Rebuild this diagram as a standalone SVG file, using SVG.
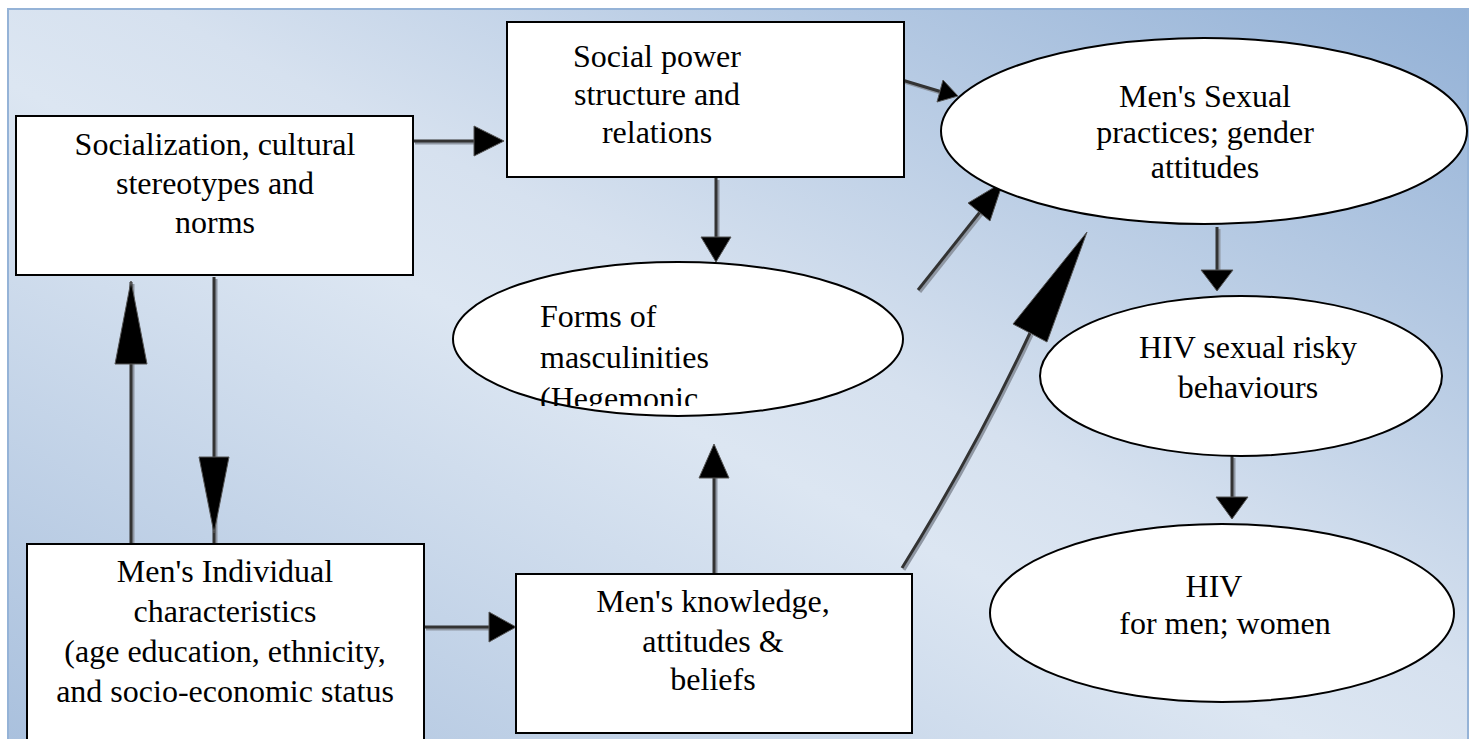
<svg xmlns="http://www.w3.org/2000/svg" width="1474" height="739" viewBox="0 0 1474 739">
<defs>
<linearGradient id="bg" x1="1" y1="0" x2="0" y2="1">
<stop offset="0" stop-color="#93b1d6"/>
<stop offset="0.45" stop-color="#d6e1ef"/>
<stop offset="0.55" stop-color="#dce6f2"/>
<stop offset="1" stop-color="#a9c0dd"/>
</linearGradient>
<clipPath id="formsClip"><rect x="453" y="262" width="450" height="144"/></clipPath>
</defs>
<style>
.node{fill:#fff;stroke:#000;stroke-width:2}
.t{font-family:"Liberation Serif","Times New Roman",serif;font-size:32px;fill:#000}
.c{text-anchor:middle}
.sh{stroke:#8f97a3;stroke-width:3;fill:none}
.ln{stroke:#333;stroke-width:3;fill:none}
.hd{fill:#000;stroke:#555;stroke-width:1}
</style>
<rect x="0" y="0" width="1474" height="739" fill="#fff"/>
<rect x="8" y="9" width="1460" height="740" fill="url(#bg)" stroke="#95b3d7" stroke-width="2"/>

<g id="connectors">
<!-- shadows -->
<g transform="translate(2,2)">
<line class="sh" x1="413" y1="141" x2="480" y2="141"/>
<line class="sh" x1="716" y1="178" x2="716" y2="240"/>
<line class="sh" x1="902" y1="80" x2="942" y2="92"/>
<line class="sh" x1="918" y1="290" x2="980" y2="212"/>
<path class="sh" d="M902,568 Q973,454 1030,333"/>
<line class="sh" x1="1217" y1="227" x2="1217" y2="272"/>
<line class="sh" x1="1232" y1="456" x2="1232" y2="499"/>
<line class="sh" x1="214" y1="277" x2="214" y2="544"/>
<line class="sh" x1="131" y1="282" x2="131" y2="544"/>
<line class="sh" x1="424" y1="627" x2="492" y2="627"/>
<line class="sh" x1="714" y1="476" x2="714" y2="573"/>
</g>
<!-- lines -->
<line class="ln" x1="413" y1="141" x2="480" y2="141"/>
<line class="ln" x1="716" y1="178" x2="716" y2="240"/>
<line class="ln" x1="902" y1="80" x2="942" y2="92"/>
<line class="ln" x1="918" y1="290" x2="980" y2="212"/>
<path class="ln" d="M902,568 Q973,454 1030,333"/>
<line class="ln" x1="1217" y1="227" x2="1217" y2="272"/>
<line class="ln" x1="1232" y1="456" x2="1232" y2="499"/>
<line class="ln" x1="214" y1="277" x2="214" y2="544"/>
<line class="ln" x1="131" y1="282" x2="131" y2="544"/>
<line class="ln" x1="424" y1="627" x2="492" y2="627"/>
<line class="ln" x1="714" y1="476" x2="714" y2="573"/>
<!-- heads -->
<polygon class="hd" points="474,126 474,156 504,141"/>
<polygon class="hd" points="701,237 731,237 716,262"/>
<polygon class="hd" points="943,80 937,102 958,96"/>
<polygon class="hd" points="990,221 968,203 1003,182"/>
<polygon class="hd" points="1047,342 1013,324 1087,232"/>
<polygon class="hd" points="1201,270 1233,270 1217,291"/>
<polygon class="hd" points="1216,497 1248,497 1232,519"/>
<polygon class="hd" points="199,457 229,457 214,533"/>
<polygon class="hd" points="115,364 147,364 131,281"/>
<polygon class="hd" points="489,612 489,642 516,627"/>
<polygon class="hd" points="699,478 729,478 714,444"/>
</g>

<g id="socialization">
<rect class="node" x="16" y="116" width="397" height="159"/>
<text class="t c" x="215" y="155">Socialization, cultural</text>
<text class="t c" x="215" y="194">stereotypes and</text>
<text class="t c" x="215" y="233">norms</text>
</g>

<g id="social-power">
<rect class="node" x="507" y="22" width="397" height="155"/>
<text class="t c" x="657" y="67">Social power</text>
<text class="t c" x="657" y="105">structure and</text>
<text class="t c" x="657" y="143">relations</text>
</g>

<g id="forms">
<ellipse class="node" cx="678" cy="339" rx="225" ry="77"/>
<g clip-path="url(#formsClip)">
<text class="t" x="540" y="327">Forms of</text>
<text class="t" x="540" y="368">masculinities</text>
<text class="t" x="540" y="409">(Hegemonic</text>
</g>
</g>

<g id="individual">
<rect class="node" x="27" y="544" width="397" height="200"/>
<text class="t c" x="225" y="582">Men's Individual</text>
<text class="t c" x="225" y="622">characteristics</text>
<text class="t c" x="225" y="662">(age education, ethnicity,</text>
<text class="t c" x="225" y="702">and socio-economic status</text>
</g>

<g id="knowledge">
<rect class="node" x="516" y="574" width="396" height="159"/>
<text class="t c" x="713" y="612">Men's knowledge,</text>
<text class="t c" x="713" y="652">attitudes &amp;</text>
<text class="t c" x="713" y="690">beliefs</text>
</g>

<g id="sexual-practices">
<ellipse class="node" cx="1204" cy="131" rx="263" ry="93"/>
<text class="t c" x="1205" y="107">Men's Sexual</text>
<text class="t c" x="1205" y="143">practices; gender</text>
<text class="t c" x="1205" y="178">attitudes</text>
</g>

<g id="risky">
<ellipse class="node" cx="1241" cy="376" rx="201" ry="80"/>
<text class="t c" x="1248" y="358">HIV sexual risky</text>
<text class="t c" x="1248" y="398">behaviours</text>
</g>

<g id="hiv">
<ellipse class="node" cx="1222" cy="613" rx="232" ry="89"/>
<text class="t c" x="1214" y="597">HIV</text>
<text class="t c" x="1225" y="634">for men; women</text>
</g>
</svg>
